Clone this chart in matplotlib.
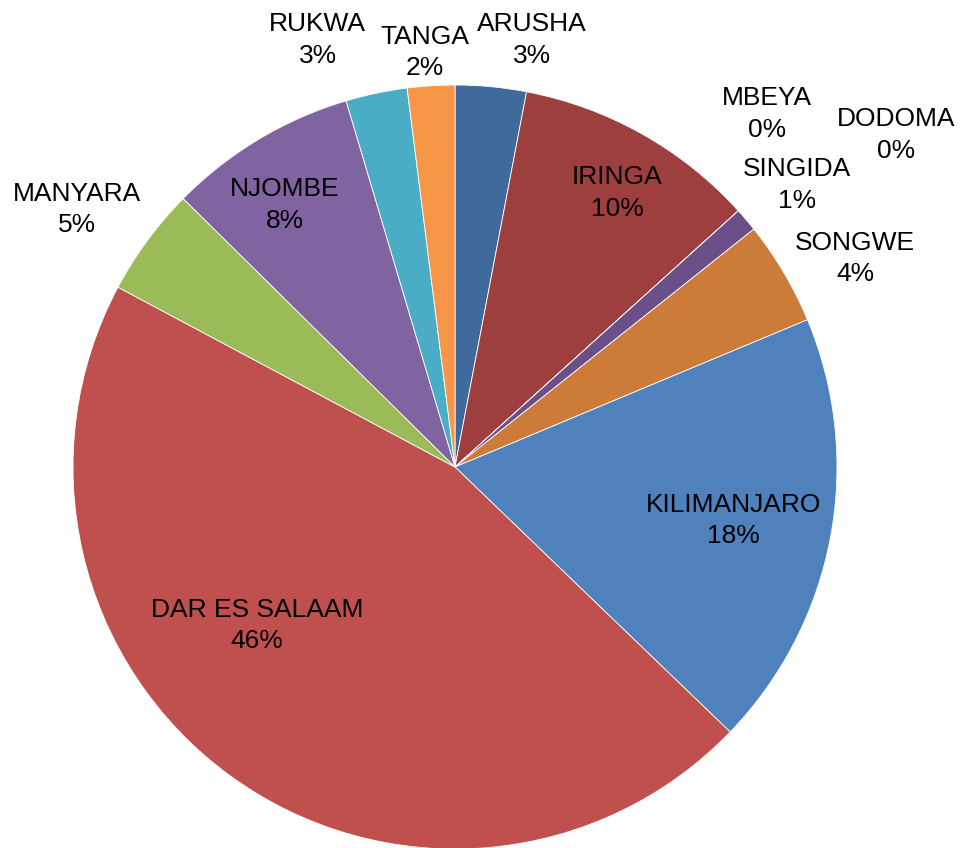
import matplotlib
matplotlib.use("Agg")
import matplotlib.pyplot as plt

regions = ["ARUSHA", "IRINGA", "MBEYA", "DODOMA", "SINGIDA", "SONGWE",
           "KILIMANJARO", "DAR ES SALAAM", "MANYARA", "NJOMBE", "RUKWA", "TANGA"]
shares = [3.0, 10.3, 0.0, 0.0, 1.0, 4.4, 18.5, 45.6, 4.6, 8.0, 2.6, 2.0]
colors = ["#40699C", "#9C3F3E", "#7E9A48", "#664F86", "#6A4F88", "#CC7B38",
          "#4F81BD", "#C0504D", "#9BBB59", "#8064A2", "#4BACC6", "#F79646"]
# label anchor positions, in units of the pie radius
label_pos = [(0.202, 1.118), (0.424, 0.717), (0.817, 0.924), (1.154, 0.869),
             (0.895, 0.738), (1.047, 0.545), (0.728, -0.141), (-0.518, -0.414),
             (-0.990, 0.675), (-0.445, 0.686), (-0.359, 1.118), (-0.079, 1.086)]

plt.rcParams['font.family'] = ['Liberation Sans', 'DejaVu Sans']

W, H = 961, 848
fig = plt.figure(figsize=(W / 100, H / 100), dpi=100)
ax = fig.add_axes([0, 0, 1, 1])
cx, cy, R = 455, 467, 382

ax.pie(shares, colors=colors, startangle=90, counterclock=False, radius=1.0,
       center=(0, 0), wedgeprops=dict(edgecolor="white", linewidth=0.6))

total = sum(shares)
for name, v, (lx, ly) in zip(regions, shares, label_pos):
    pct = round(100 * v / total)
    ax.text(lx, ly, f"{name}\n{pct}%", ha="center", va="center",
            fontsize=19, color="black", linespacing=1.38)

ax.set_xlim(-cx / R, (W - cx) / R)
ax.set_ylim(-(H - cy) / R, cy / R)
ax.set_aspect("equal")
ax.axis("off")
fig.savefig("out.png", dpi=100, facecolor="white")
